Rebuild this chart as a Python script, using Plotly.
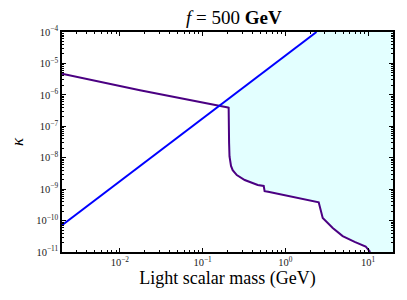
import numpy as np
import plotly.graph_objects as go

# Purple exclusion curve (mass in GeV, kappa)
purple_mass = [0.002, 0.0175, 0.203, 0.2065, 0.209, 0.2115, 0.2205, 0.231, 0.259, 0.323, 0.464, 0.548,
               0.562, 0.620, 2.53, 2.60, 2.83, 3.74, 4.93, 6.88, 9.35, 10.6]
purple_kappa = [4.7e-6, 1.4e-6, 3.95e-7, 3.9e-7, 3.0e-8, 1.1e-8, 5.5e-9, 4.0e-9, 2.8e-9, 1.95e-9, 1.35e-9, 1.26e-9,
                8.6e-10, 8.2e-10, 3.8e-10, 2.8e-10, 1.2e-10, 5.8e-11, 3.2e-11, 2.1e-11, 1.5e-11, 1.0e-11]

# Blue line endpoints (kappa ∝ m^2)
blue_mass = [0.002, 2.38]
blue_kappa = [7.06e-11, 1.0e-4]

x_range = [0.002, 20.0]
y_range = [1e-11, 1e-4]

x_tickvals = [0.01, 0.1, 1, 10]
x_ticktext = ['10<sup>−2</sup>', '10<sup>−1</sup>', '10<sup>0</sup>', '10<sup>1</sup>']
y_tickvals = [1e-11, 1e-10, 1e-9, 1e-8, 1e-7, 1e-6, 1e-5, 1e-4]
y_ticktext = ['10<sup>−11</sup>', '10<sup>−10</sup>', '10<sup>−9</sup>', '10<sup>−8</sup>',
              '10<sup>−7</sup>', '10<sup>−6</sup>', '10<sup>−5</sup>', '10<sup>−4</sup>']

lx_p = np.log10(purple_mass); ly_p = np.log10(purple_kappa)
lx_b = np.log10(blue_mass); ly_b = np.log10(blue_kappa)
slope_b = (ly_b[1] - ly_b[0]) / (lx_b[1] - lx_b[0])

def blue_at(lx):
    return ly_b[0] + slope_b * (lx - lx_b[0])

# find crossing between purple and blue
cross = None
for i in range(len(lx_p) - 1):
    d0 = ly_p[i] - blue_at(lx_p[i]); d1 = ly_p[i + 1] - blue_at(lx_p[i + 1])
    if d0 > 0 and d1 <= 0:
        t = d0 / (d0 - d1)
        cx = lx_p[i] + t * (lx_p[i + 1] - lx_p[i])
        cross = (cx, blue_at(cx), i + 1)
        break

cx, cy, idx = cross
poly_x = [10 ** cx] + list(purple_mass[idx:]) + [x_range[1], x_range[1], 10 ** ((np.log10(y_range[1]) - ly_b[0]) / slope_b + lx_b[0]), 10 ** cx]
poly_y = [10 ** cy] + list(purple_kappa[idx:]) + [y_range[0], y_range[1], y_range[1], 10 ** cy]

fig = go.Figure()
fig.add_trace(go.Scatter(x=poly_x, y=poly_y, fill='toself', fillcolor='#e3ffff', mode='none',
                         hoverinfo='skip', showlegend=False))
fig.add_trace(go.Scatter(x=purple_mass, y=purple_kappa, mode='lines',
                         line=dict(color='#4b0082', width=2), showlegend=False))
fig.add_trace(go.Scatter(x=blue_mass, y=blue_kappa, mode='lines',
                         line=dict(color='#0000ff', width=2), showlegend=False))

font = "Liberation Serif, DejaVu Serif, serif"
axis_common = dict(type='log', showgrid=False, zeroline=False, showline=True, linecolor='black', linewidth=1.5,
                   ticks='inside', ticklen=4, tickwidth=1, tickcolor='black', mirror='allticks',
                   automargin=False,
                   minor=dict(ticks='inside', ticklen=2, tickcolor='black', dtick='D1', showgrid=False),
                   tickfont=dict(family=font, size=10.5, color='#222'))

fig.update_layout(
    width=407, height=300,
    margin=dict(l=54, r=22, t=24, b=56),
    plot_bgcolor='white', paper_bgcolor='white',
    title=dict(text='<i>f</i> = 500 <b>GeV</b>', x=0.555, xanchor='center', y=0.948, yanchor='bottom',
               font=dict(family=font, size=19, color='black')),
    xaxis=dict(range=[np.log10(x_range[0]), np.log10(x_range[1])],
               tickvals=x_tickvals, ticktext=x_ticktext,
               title=dict(text='Light scalar mass (GeV)', font=dict(family=font, size=18, color='black'), standoff=3),
               **axis_common),
    yaxis=dict(range=[np.log10(y_range[0]), np.log10(y_range[1])],
               tickvals=y_tickvals, ticktext=y_ticktext,
               title=dict(text='<i>κ</i>', font=dict(family=font, size=17, color='black'), standoff=8),
               **axis_common),
)

fig.write_html("out.html")
